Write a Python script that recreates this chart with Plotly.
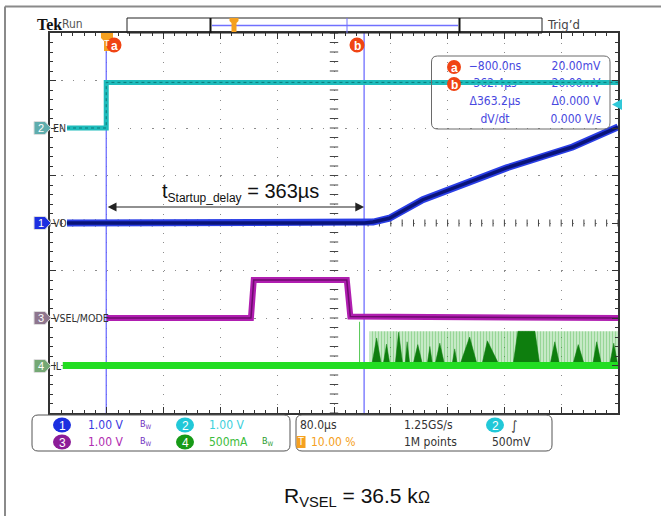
import plotly.graph_objects as go

# ---------------- data ----------------
# time axis: 80 us/div, trigger at 10 % -> -80 .. 720 us
en_t = [-56, -0.8, -0.8, 720]
en_v = [0.0, 0.0, 0.96, 0.96]            # V (1.00 V/div)

vo_t = [-56, 363, 375, 398, 445, 563, 656, 720]
vo_v = [0.0, 0.0, 0.02, 0.10, 0.49, 1.16, 1.60, 2.02]   # V (1.00 V/div)

vsel_t = [0, 203, 207, 338, 343, 720]
vsel_v = [0.0, 0.0, 0.80, 0.80, 0.03, 0.0]             # V (1.00 V/div)

il_base_t = [-62, 720]
il_base_ma = [0, 0]                      # mA (500 mA/div)
il_spike_t = [356, 356]
il_spike_ma = [0, 460]
il_band_t = [370, 370, 720, 720]
il_band_ma = [0, 360, 360, 0]
burst_start = [373, 389, 406, 420, 431, 451, 462, 486, 497, 528, 572, 624, 656, 684, 708]
burst_top_a = [380, 394, 411, 423, 438, 455, 469, 490, 511, 536, 579, 631, 664, 690, 714]
burst_top_b = [380, 394, 411, 423, 438, 455, 469, 490, 511, 536, 603, 631, 664, 690, 714]
burst_end = [387, 399, 417, 427, 445, 459, 476, 494, 522, 553, 610, 638, 673, 697, 720]
burst_peak_ma = [290, 225, 350, 250, 220, 200, 235, 175, 300, 260, 360, 250, 220, 250, 235]

cursor_a_t = -0.8
cursor_b_t = 362.4

meas_col1 = ["\u2212800.0ns", "362.4\u00b5s", "\u0394363.2\u00b5s", "dV/dt"]
meas_col2 = ["20.00mV", "20.00mV", "\u03940.000 V", "0.000 V/s"]

# channel display offsets (divisions) and scales
EN_OFF, VO_OFF, VSEL_OFF, IL_OFF = 2.0, 0.0, -2.0, -3.0
V_PER_DIV, MA_PER_DIV = 1.0, 500.0

# ---------------- geometry helpers (layout only) ----------------
PX0, PX1, PY0, PY1 = 50, 618, 33, 413
def T(px):
    return -80 + (px - PX0) * 800 / (PX1 - PX0)
def D(py):
    return 4 - (py - PY0) * 8 / (PY1 - PY0)
def XP(px):
    return (px - PX0) / (PX1 - PX0)
def YP(py):
    return (PY1 - py) / (PY1 - PY0)

SF = "Liberation Sans Narrow, DejaVu Sans Condensed, Arial Narrow, sans-serif"
AF = "Liberation Sans, Arial, sans-serif"

fig = go.Figure()

# center graticule ticks
cx = [-80 + 16 * i for i in range(51)]
fig.add_trace(go.Scatter(x=cx, y=[0] * len(cx), mode="markers", hoverinfo="skip",
                         marker=dict(symbol="line-ns", size=5, line=dict(width=1, color="#444"))))
cy = [-4 + 0.2 * i for i in range(41)]
fig.add_trace(go.Scatter(x=[320] * len(cy), y=cy, mode="markers", hoverinfo="skip",
                         marker=dict(symbol="line-ew", size=6, line=dict(width=1, color="#444"))))

# cursors
for ct in (cursor_a_t, cursor_b_t):
    fig.add_trace(go.Scatter(x=[ct, ct], y=[-4, 4], mode="lines", hoverinfo="skip",
                             line=dict(color="#6262ff", width=1.2)))

# measurement readout text (drawn below EN trace)
rows_py = [67, 84, 102, 120]
fig.add_trace(go.Scatter(x=[T(495)] * 4, y=[D(p) for p in rows_py], mode="text",
                         text=meas_col1, textfont=dict(family=SF, size=12, color="#4848e0"),
                         hoverinfo="skip", cliponaxis=False))
fig.add_trace(go.Scatter(x=[T(576)] * 4, y=[D(p) for p in rows_py], mode="text",
                         text=meas_col2, textfont=dict(family=SF, size=12, color="#4848e0"),
                         hoverinfo="skip", cliponaxis=False))

# IL switching band
fig.add_trace(go.Scatter(x=il_band_t, y=[IL_OFF + v / MA_PER_DIV for v in il_band_ma],
                         mode="lines", fill="toself", line=dict(width=0),
                         fillcolor="rgba(0,0,0,0)",
                         fillpattern=dict(shape="|", size=3, solidity=0.7,
                                          fgcolor="#2fae2f", bgcolor="rgba(255,255,255,0)"),
                         hoverinfo="skip"))
bx, by = [], []
for s, a, b, e, p in zip(burst_start, burst_top_a, burst_top_b, burst_end, burst_peak_ma):
    bx += [s, a, b, e, None]
    by += [IL_OFF, IL_OFF + p / MA_PER_DIV, IL_OFF + p / MA_PER_DIV, IL_OFF, None]
fig.add_trace(go.Scatter(x=bx, y=by, mode="lines", fill="toself", fillcolor="#0e7e0e",
                         line=dict(width=0.5, color="#0e7e0e"), hoverinfo="skip"))
fig.add_trace(go.Scatter(x=il_spike_t, y=[IL_OFF + v / MA_PER_DIV for v in il_spike_ma],
                         mode="lines", line=dict(color="#56c856", width=1), hoverinfo="skip"))
fig.add_trace(go.Scatter(x=il_base_t, y=[IL_OFF + v / MA_PER_DIV for v in il_base_ma],
                         mode="lines", line=dict(color="#22dd22", width=7), hoverinfo="skip"))

# VSEL/MODE
vsel_y = [VSEL_OFF + v / V_PER_DIV for v in vsel_v]
fig.add_trace(go.Scatter(x=vsel_t, y=vsel_y, mode="lines",
                         line=dict(color="#b01eb0", width=6), hoverinfo="skip"))
fig.add_trace(go.Scatter(x=vsel_t, y=vsel_y, mode="lines",
                         line=dict(color="#6e0c6e", width=1.5), hoverinfo="skip"))

# VO
vo_y = [VO_OFF + v / V_PER_DIV for v in vo_v]
fig.add_trace(go.Scatter(x=vo_t, y=vo_y, mode="lines",
                         line=dict(color="#2a3ee6", width=7), hoverinfo="skip"))
fig.add_trace(go.Scatter(x=vo_t, y=vo_y, mode="lines",
                         line=dict(color="#0a1478", width=3.5), hoverinfo="skip"))

# EN
en_y = [EN_OFF + v / V_PER_DIV for v in en_v]
fig.add_trace(go.Scatter(x=en_t, y=en_y, mode="lines",
                         line=dict(color="#1fbcbc", width=5), hoverinfo="skip"))
fig.add_trace(go.Scatter(x=en_t, y=en_y, mode="lines",
                         line=dict(color="#0b7a7a", width=1, dash="dot"), hoverinfo="skip"))

# ---------------- decorations: shapes + annotations ----------------
def ann(px, py, text, size=12, color="#333", xanchor="center", family=SF, **kw):
    return dict(xref="paper", yref="paper", x=XP(px), y=YP(py), text=text, showarrow=False,
                font=dict(size=size, color=color, family=family), xanchor=xanchor,
                yanchor="middle", **kw)

def poly(points, fill, lw=0, lc=None):
    path = "M" + " L".join(f"{XP(x)},{YP(y)}" for x, y in points) + " Z"
    return dict(type="path", xref="paper", yref="paper", path=path, fillcolor=fill,
                line=dict(width=lw, color=lc or fill))

def circ(px, py, rx, ry, fill):
    return dict(type="circle", xref="paper", yref="paper", x0=XP(px - rx), x1=XP(px + rx),
                y0=YP(py + ry), y1=YP(py - ry), fillcolor=fill, line=dict(width=0))

def rrect(x0, y0, x1, y1, r):
    rx, ry = r / (PX1 - PX0), r / (PY1 - PY0)
    a, b, c, d = XP(x0), YP(y0), XP(x1), YP(y1)
    return (f"M{a+rx},{b} L{c-rx},{b} Q{c},{b} {c},{b-ry} L{c},{d+ry} Q{c},{d} {c-rx},{d} "
            f"L{a+rx},{d} Q{a},{d} {a},{d+ry} L{a},{b-ry} Q{a},{b} {a+rx},{b} Z")

shapes = [
    # page frame
    dict(type="line", xref="paper", yref="paper", x0=XP(5), x1=XP(661), y0=YP(6.5), y1=YP(6.5),
         line=dict(color="#8a8a8a", width=2)),
    dict(type="line", xref="paper", yref="paper", x0=XP(5), x1=XP(5), y0=YP(6.5), y1=YP(516),
         line=dict(color="#8a8a8a", width=2)),
    # record view bar
    dict(type="rect", xref="paper", yref="paper", x0=XP(127), x1=XP(542), y0=YP(18), y1=YP(33),
         line=dict(color="#222", width=1)),
    dict(type="line", xref="paper", yref="paper", x0=XP(212), x1=XP(458), y0=YP(25.5), y1=YP(25.5),
         line=dict(color="#7070ff", width=1.5)),
    dict(type="line", xref="paper", yref="paper", x0=XP(347), x1=XP(347), y0=YP(18), y1=YP(33),
         line=dict(color="#7070ff", width=1)),
    dict(type="line", xref="paper", yref="paper", x0=XP(210.5), x1=XP(210.5), y0=YP(18), y1=YP(33),
         line=dict(color="#111", width=2)),
    dict(type="line", xref="paper", yref="paper", x0=XP(459.5), x1=XP(459.5), y0=YP(18), y1=YP(33),
         line=dict(color="#111", width=2)),
    poly([(229.5, 18), (238.5, 18), (238.5, 21), (236.5, 23), (236.5, 32), (231.5, 32),
          (231.5, 23), (229.5, 21)], "#f5a020"),
    # measurement box
    dict(type="path", xref="paper", yref="paper", path=rrect(431.5, 56, 610, 129, 6),
         line=dict(color="#6a6a6a", width=1)),
    # bottom panels
    dict(type="path", xref="paper", yref="paper", path=rrect(32, 415, 290, 451, 6),
         line=dict(color="#555", width=1)),
    dict(type="path", xref="paper", yref="paper", path=rrect(296, 415, 552, 451, 6),
         line=dict(color="#555", width=1)),
    # trigger position marker at top
    poly([(101, 33), (113, 33), (113, 38), (110, 41), (110, 51), (104, 51), (104, 41),
          (101, 38)], "#f5a020"),
    # trigger level arrow ch2
    poly([(622, 99), (612, 104.5), (622, 110)], "#30c8d8"),
    # bottom orange T
    dict(type="rect", xref="paper", yref="paper", x0=XP(296.5), x1=XP(305.5), y0=YP(448),
         y1=YP(436), fillcolor="#f5a020", line=dict(width=0)),
]

anns = []
# cursor / readout badges
for px, py, lab, r in [(114, 45, "a", 7.5), (357, 45, "b", 7.5), (454, 67, "a", 7), (454, 84, "b", 7)]:
    shapes.append(circ(px, py, r, r, "#f04414"))
    anns.append(ann(px, py + 0.5, f"<b>{lab}</b>", 12, "white", "center", AF))
anns.append(ann(106.5, 43, "T", 9, "white", "center", AF))
anns.append(ann(301, 442, "T", 10, "white", "center", AF))

# channel ground markers on the left
for py, col, lab in [(128, "#5fadad", "2"), (223, "#1c2fe0", "1"),
                     (318, "#8e768e", "3"), (366, "#74a874", "4")]:
    shapes.append(poly([(34, py - 6.5), (45, py - 6.5), (51, py), (45, py + 6.5), (34, py + 6.5)],
                       col, 1, "#dddddd"))
    anns.append(ann(40.5, py, lab, 11, "white", "center", AF))

# bottom panel badges
for px, py, col, lab in [(62, 425, "#1c2fe0", "1"), (185, 425, "#22c8d8", "2"),
                         (62, 442, "#8c1c98", "3"), (185, 442, "#179a17", "4"),
                         (495, 425, "#22c8d8", "2")]:
    shapes.append(circ(px, py, 9, 7.5, col))
    anns.append(ann(px, py + 0.5, lab, 12, "white", "center", AF))

anns += [
    ann(35, 25, "<b>Tek</b>", 16, "#111", "left", "Liberation Serif, DejaVu Serif, serif"),
    ann(60, 24, "Run", 12, "#555", "left"),
    ann(545, 25, "Trig\u2019d", 13, "#444", "left"),
    ann(51, 128, "EN", 10.5, "#333", "left"),
    ann(51, 223, "VO", 10.5, "#333", "left"),
    ann(50.5, 318, "VSEL/MODE", 10.5, "#333", "left"),
    ann(51, 366, "IL", 10.5, "#333", "left"),
    # bottom panel
    ann(86, 425, "1.00 V", 12, "#3a3ae0", "left"),
    ann(86, 442, "1.00 V", 12, "#b02cb0", "left"),
    ann(207, 425, "1.00 V", 12, "#3cd0dc", "left"),
    ann(207, 442, "500mA", 12, "#3cbc3c", "left"),
    ann(146, 424, "B<sub>W</sub>", 9, "#7030c0"),
    ann(146, 441, "B<sub>W</sub>", 9, "#7030c0"),
    ann(268, 441, "B<sub>W</sub>", 9, "#2a9a2a"),
    ann(298, 425, "80.0\u00b5s", 12, "#333", "left"),
    ann(309, 442, "10.00 %", 12, "#f5a020", "left"),
    ann(402, 425, "1.25GS/s", 12, "#333", "left"),
    ann(402, 442, "1M points", 12, "#333", "left"),
    ann(514, 425, "\u222b", 13, "#333", "center"),
    ann(490, 442, "500mV", 12, "#333", "left"),
    # startup delay label
    ann(160, 192, "t<sub><span style='font-size:12px'>Startup_delay</span></sub> = 363\u00b5s",
        20, "#111", "left", AF),
    # caption
    ann(282, 497, "R<sub>VSEL</sub> = 36.5 k<span style='font-size:16px'>\u03a9</span>",
        21, "#111", "left", AF),
]
# double-headed arrow for startup delay
anns.append(dict(x=cursor_b_t, y=D(207), ax=cursor_a_t, ay=D(207), xref="x", yref="y",
                 axref="x", ayref="y", text="", showarrow=True, arrowhead=2, startarrowhead=2,
                 arrowside="end+start", arrowsize=1.6, startarrowsize=1.6, arrowwidth=1.1,
                 arrowcolor="#222"))

axis_common = dict(showticklabels=False, zeroline=False, showline=True, linecolor="#333",
                   linewidth=1.5, mirror="ticks", ticks="inside", ticklen=6, tickwidth=1,
                   tickcolor="#333", gridcolor="#8c8c8c", gridwidth=1.3)
fig.update_layout(
    width=661, height=516, margin=dict(l=50, r=43, t=33, b=103),
    paper_bgcolor="white", plot_bgcolor="white", showlegend=False,
    xaxis=dict(range=[-80, 720], dtick=80, tick0=-80, griddash="1.3px,8.2px",
               minor=dict(ticks="inside", dtick=16, tick0=-80, ticklen=3, tickcolor="#333",
                          showgrid=False), **axis_common),
    yaxis=dict(range=[-4, 4], dtick=1, tick0=-4, griddash="1.3px,10.06px",
               minor=dict(ticks="inside", dtick=0.2, tick0=-4, ticklen=3, tickcolor="#333",
                          showgrid=False), **axis_common),
    annotations=anns, shapes=shapes,
)

fig.write_html("out.html", config={"displayModeBar": False},
               post_script="document.body.style.margin='0px';")
